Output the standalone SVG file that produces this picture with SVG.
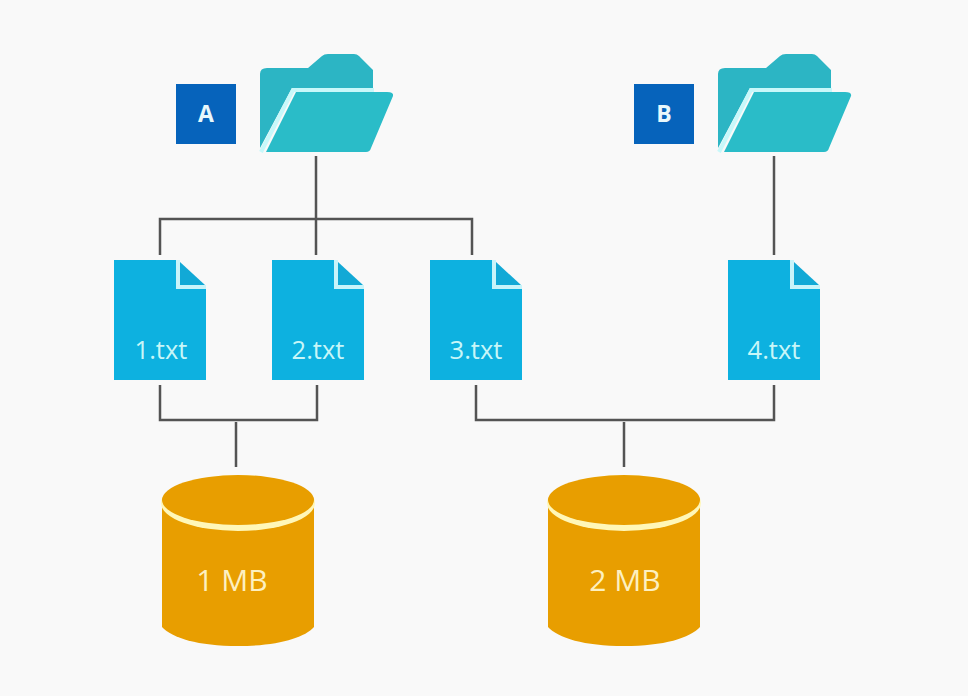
<svg xmlns="http://www.w3.org/2000/svg" width="968" height="696" viewBox="0 0 968 696">
<defs>
<g id="folder-shape">
<path class="fb" d="M0 20Q0 14 7 14H48L62 2Q64 0 68 0H94Q97 0 99 2L113 16V34H32L0 94Z"/>
<path class="fs" d="M1 98L33 36H114"/>
<path class="fl" d="M36 38H127Q134 38 133 42L111 94Q110 98 106 98H6Z"/>
</g>
<g id="file-shape">
<path class="doc" d="M0 0H62V29H92V120H0Z"/>
<path class="fs2" d="M64 0V27H92"/>
<path class="fold" d="M66 2L91 25H66Z"/>
</g>
<g id="db-shape">
<path class="db" d="M0 27V152C10 163 36 171 76 171C116 171 142 163 152 152V27Z"/>
<ellipse class="dbs" cx="76" cy="28" rx="77" ry="28"/>
<ellipse class="db" cx="76" cy="25" rx="76" ry="25"/>
</g>
</defs>
<style>
.c{fill:none;stroke:#545454;stroke-width:2.5}
.fb{fill:#2cb5c4}
.fl{fill:#2abcc8}
.fs{fill:none;stroke:#c8f8fa;stroke-width:4}
.doc{fill:#0db1e0}
.fold{fill:#12a9d6}
.fs2{fill:none;stroke:#c8f4fa;stroke-width:4}
.db{fill:#e89e00}
.dbs{fill:#fff7b8}
.t{font-family:"Open Sans","Noto Sans",sans-serif;text-anchor:middle}
.ft{font-size:25.5px;fill:#c8f6f8}
.mt{font-size:30px;fill:#fdf0c0}
.bt{font-size:23px;font-weight:700;fill:#e8f8fc}
.b{fill:#0663bb}
</style>
<rect width="968" height="696" fill="#f9f9f9"/>
<g id="connectors">
<path class="c" d="M316 156V255M160 255V219H472V255"/>
<path class="c" d="M774 156V255"/>
<path class="c" d="M160 385V420H317V385M236 422V467"/>
<path class="c" d="M476 385V420H774V385M624 422V467"/>
</g>
<g id="badge-a"><rect class="b" x="176" y="84" width="60" height="60"/><text class="t bt" x="206" y="122">A</text></g>
<g id="folder-a"><use href="#folder-shape" x="260" y="54"/></g>
<g id="badge-b"><rect class="b" x="634" y="84" width="60" height="60"/><text class="t bt" x="664" y="122">B</text></g>
<g id="folder-b"><use href="#folder-shape" x="718" y="54"/></g>
<g id="file-1"><use href="#file-shape" x="114" y="260"/><text class="t ft" x="161" y="359">1.txt</text></g>
<g id="file-2"><use href="#file-shape" x="272" y="260"/><text class="t ft" x="318" y="359">2.txt</text></g>
<g id="file-3"><use href="#file-shape" x="430" y="260"/><text class="t ft" x="476" y="359">3.txt</text></g>
<g id="file-4"><use href="#file-shape" x="728" y="260"/><text class="t ft" x="774" y="359">4.txt</text></g>
<g id="db-1"><use href="#db-shape" x="162" y="475"/><text class="t mt" x="232" y="591">1 MB</text></g>
<g id="db-2"><use href="#db-shape" x="548" y="475"/><text class="t mt" x="625" y="591">2 MB</text></g>
</svg>
